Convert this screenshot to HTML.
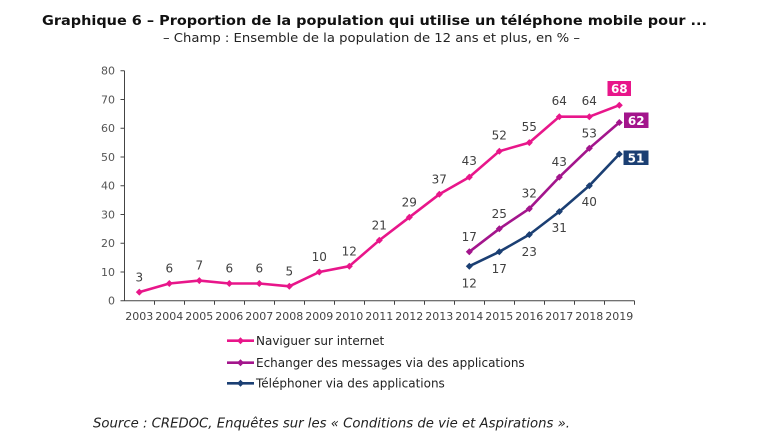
<!DOCTYPE html>
<html><head><meta charset="utf-8"><style>
html,body{margin:0;padding:0;background:#fff;}
svg{display:block;}
text{font-family:"DejaVu Sans","Liberation Sans",sans-serif;}
</style></head><body>
<svg width="758" height="448" viewBox="0 0 758 448" xmlns="http://www.w3.org/2000/svg">
<rect width="758" height="448" fill="#fff"/>
<text x="42" y="25" font-size="13" font-weight="bold" fill="#111" textLength="665" lengthAdjust="spacingAndGlyphs">Graphique 6 – Proportion de la population qui utilise un téléphone mobile pour ...</text>
<text x="163" y="42" font-size="12" fill="#222" textLength="417" lengthAdjust="spacingAndGlyphs">– Champ : Ensemble de la population de 12 ans et plus, en % –</text>

<g stroke="#444" stroke-width="1" fill="none">
<line x1="124.5" y1="70.7" x2="124.5" y2="301"/>
<line x1="124.5" y1="300.7" x2="634.5" y2="300.7"/>
<path d="M120.5 70.7H124.5M120.5 99.45H124.5M120.5 128.2H124.5M120.5 156.95H124.5M120.5 185.7H124.5M120.5 214.45H124.5M120.5 243.2H124.5M120.5 271.95H124.5M120.5 300.7H124.5"/>
<path d="M154.5 300.7v4M184.5 300.7v4M214.5 300.7v4M244.5 300.7v4M274.5 300.7v4M304.5 300.7v4M334.5 300.7v4M364.5 300.7v4M394.5 300.7v4M424.5 300.7v4M454.5 300.7v4M484.5 300.7v4M514.5 300.7v4M544.5 300.7v4M574.5 300.7v4M604.5 300.7v4M634.5 300.7v4"/>
</g>
<g font-size="11" fill="#555" text-anchor="end">
<text x="115" y="74.7">80</text><text x="115" y="103.5">70</text><text x="115" y="132.2">60</text><text x="115" y="161">50</text><text x="115" y="189.7">40</text><text x="115" y="218.5">30</text><text x="115" y="247.2">20</text><text x="115" y="276">10</text><text x="115" y="304.7">0</text>
</g>
<g font-size="11" fill="#444" text-anchor="middle">
<text x="139.3" y="320">2003</text><text x="169.3" y="320">2004</text><text x="199.3" y="320">2005</text><text x="229.3" y="320">2006</text><text x="259.3" y="320">2007</text><text x="289.3" y="320">2008</text><text x="319.3" y="320">2009</text><text x="349.3" y="320">2010</text><text x="379.3" y="320">2011</text><text x="409.3" y="320">2012</text><text x="439.3" y="320">2013</text><text x="469.3" y="320">2014</text><text x="499.3" y="320">2015</text><text x="529.3" y="320">2016</text><text x="559.3" y="320">2017</text><text x="589.3" y="320">2018</text><text x="619.3" y="320">2019</text>
</g>

<!-- pink series -->
<polyline fill="none" stroke="#E8168A" stroke-width="2.6" stroke-linejoin="round" points="139.3,292.1 169.3,283.5 199.3,280.6 229.3,283.5 259.3,283.5 289.3,286.3 319.3,272 349.3,266.2 379.3,240.3 409.3,217.3 439.3,194.3 469.3,177.1 499.3,151.2 529.3,142.6 559.3,116.7 589.3,116.7 619.3,105.2"/>
<g fill="#E8168A">
<path d="M139.3 288.6l3.5 3.5-3.5 3.5-3.5-3.5z"/><path d="M169.3 280l3.5 3.5-3.5 3.5-3.5-3.5z"/><path d="M199.3 277.1l3.5 3.5-3.5 3.5-3.5-3.5z"/><path d="M229.3 280l3.5 3.5-3.5 3.5-3.5-3.5z"/><path d="M259.3 280l3.5 3.5-3.5 3.5-3.5-3.5z"/><path d="M289.3 282.8l3.5 3.5-3.5 3.5-3.5-3.5z"/><path d="M319.3 268.5l3.5 3.5-3.5 3.5-3.5-3.5z"/><path d="M349.3 262.7l3.5 3.5-3.5 3.5-3.5-3.5z"/><path d="M379.3 236.8l3.5 3.5-3.5 3.5-3.5-3.5z"/><path d="M409.3 213.8l3.5 3.5-3.5 3.5-3.5-3.5z"/><path d="M439.3 190.8l3.5 3.5-3.5 3.5-3.5-3.5z"/><path d="M469.3 173.6l3.5 3.5-3.5 3.5-3.5-3.5z"/><path d="M499.3 147.7l3.5 3.5-3.5 3.5-3.5-3.5z"/><path d="M529.3 139.1l3.5 3.5-3.5 3.5-3.5-3.5z"/><path d="M559.3 113.2l3.5 3.5-3.5 3.5-3.5-3.5z"/><path d="M589.3 113.2l3.5 3.5-3.5 3.5-3.5-3.5z"/><path d="M619.3 101.7l3.5 3.5-3.5 3.5-3.5-3.5z"/>
</g>
<!-- purple series -->
<polyline fill="none" stroke="#A3158C" stroke-width="2.6" stroke-linejoin="round" points="469.3,251.8 499.3,228.8 529.3,208.7 559.3,177.1 589.3,148.3 619.3,122.5"/>
<g fill="#A3158C">
<path d="M469.3 248.3l3.5 3.5-3.5 3.5-3.5-3.5z"/><path d="M499.3 225.3l3.5 3.5-3.5 3.5-3.5-3.5z"/><path d="M529.3 205.2l3.5 3.5-3.5 3.5-3.5-3.5z"/><path d="M559.3 173.6l3.5 3.5-3.5 3.5-3.5-3.5z"/><path d="M589.3 144.8l3.5 3.5-3.5 3.5-3.5-3.5z"/><path d="M619.3 119l3.5 3.5-3.5 3.5-3.5-3.5z"/>
</g>
<!-- navy series -->
<polyline fill="none" stroke="#1B3F73" stroke-width="2.6" stroke-linejoin="round" points="469.3,266.2 499.3,251.8 529.3,234.6 559.3,211.6 589.3,185.7 619.3,154.1"/>
<g fill="#1B3F73">
<path d="M469.3 262.7l3.5 3.5-3.5 3.5-3.5-3.5z"/><path d="M499.3 248.3l3.5 3.5-3.5 3.5-3.5-3.5z"/><path d="M529.3 231.1l3.5 3.5-3.5 3.5-3.5-3.5z"/><path d="M559.3 208.1l3.5 3.5-3.5 3.5-3.5-3.5z"/><path d="M589.3 182.2l3.5 3.5-3.5 3.5-3.5-3.5z"/><path d="M619.3 150.6l3.5 3.5-3.5 3.5-3.5-3.5z"/>
</g>

<g font-size="12" fill="#404040" text-anchor="middle">
<!-- pink labels -->
<text x="139.3" y="281.5">3</text><text x="169.3" y="272.5">6</text><text x="199.3" y="269.5">7</text><text x="229.3" y="272.5">6</text><text x="259.3" y="272.5">6</text><text x="289.3" y="275.5">5</text><text x="319.3" y="261">10</text><text x="349.3" y="255.5">12</text><text x="379.3" y="229.5">21</text><text x="409.3" y="206.5">29</text><text x="439.3" y="183.5">37</text><text x="469.3" y="165">43</text><text x="499.3" y="139.5">52</text><text x="529.3" y="131">55</text><text x="559.3" y="105">64</text><text x="589.3" y="105">64</text>
<!-- purple labels -->
<text x="469.3" y="241">17</text><text x="499.3" y="218">25</text><text x="529.3" y="197.5">32</text><text x="559.3" y="166">43</text><text x="589.3" y="137.5">53</text>
<!-- navy labels -->
<text x="469.3" y="287.5">12</text><text x="499.3" y="273">17</text><text x="529.3" y="256">23</text><text x="559.3" y="232">31</text><text x="589.3" y="206">40</text>
</g>
<rect x="607.5" y="81" width="23.5" height="15" fill="#E8168A"/>
<text x="619.3" y="93" font-size="12" font-weight="bold" fill="#fff" text-anchor="middle">68</text>
<rect x="624" y="112.5" width="24.5" height="15.5" fill="#A3158C"/>
<text x="636.2" y="125" font-size="12" font-weight="bold" fill="#fff" text-anchor="middle">62</text>
<rect x="623.5" y="150.5" width="25" height="14.5" fill="#1B3F73"/>
<text x="636" y="162.5" font-size="12" font-weight="bold" fill="#fff" text-anchor="middle">51</text>

<!-- legend -->
<g stroke-width="2.6">
<line x1="227" y1="340.7" x2="254" y2="340.7" stroke="#E8168A"/>
<line x1="227" y1="362.7" x2="254" y2="362.7" stroke="#A3158C"/>
<line x1="227" y1="383.3" x2="254" y2="383.3" stroke="#1B3F73"/>
</g>
<path d="M240.5 337.2l3.5 3.5-3.5 3.5-3.5-3.5z" fill="#E8168A"/>
<path d="M240.5 359.2l3.5 3.5-3.5 3.5-3.5-3.5z" fill="#A3158C"/>
<path d="M240.5 379.8l3.5 3.5-3.5 3.5-3.5-3.5z" fill="#1B3F73"/>
<g font-size="12" fill="#222">
<text x="256" y="345">Naviguer sur internet</text>
<text x="256" y="367">Echanger des messages via des applications</text>
<text x="256" y="387.5">Téléphoner via des applications</text>
</g>

<text x="93" y="427.5" font-size="13" font-style="italic" fill="#222" textLength="477" lengthAdjust="spacingAndGlyphs">Source : CREDOC, Enquêtes sur les « Conditions de vie et Aspirations ».</text>
</svg>
</body></html>
